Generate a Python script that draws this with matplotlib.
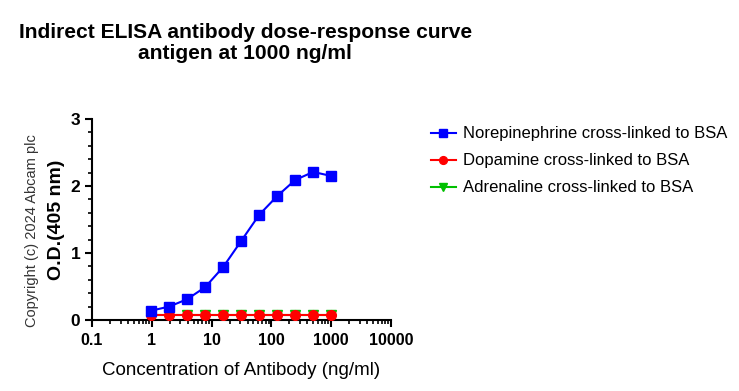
import matplotlib
matplotlib.use("Agg")
import matplotlib.pyplot as plt
from matplotlib.ticker import LogLocator, MultipleLocator, FixedLocator, FixedFormatter, NullFormatter

plt.rcParams['font.family'] = ['Liberation Sans', 'DejaVu Sans']

conc = [0.977, 1.95, 3.9, 7.8, 15.6, 31.25, 62.5, 125, 250, 500, 1000]
norepinephrine = [0.14, 0.20, 0.31, 0.49, 0.79, 1.18, 1.57, 1.85, 2.09, 2.21, 2.15]
dopamine = [0.07, 0.07, 0.07, 0.07, 0.07, 0.07, 0.07, 0.07, 0.07, 0.07, 0.07]
adrenaline = [0.08, 0.08, 0.08, 0.08, 0.08, 0.08, 0.08, 0.08, 0.08, 0.08, 0.08]
xticks = [0.1, 1, 10, 100, 1000, 10000]
xticklabels = ["0.1", "1", "10", "100", "1000", "10000"]

fig = plt.figure(figsize=(7.39, 3.91), dpi=100)
ax = fig.add_axes([0.1245, 0.1816, 0.4046, 0.514])

ax.plot(conc, adrenaline, color='#00C000', marker='v', markersize=7, lw=1.5,
        label='Adrenaline cross-linked to BSA', zorder=3)
ax.plot(conc, dopamine, color='#FF0000', marker='o', markersize=7, lw=1.5,
        label='Dopamine cross-linked to BSA', zorder=4)
ax.plot(conc, norepinephrine, color='#0000FF', marker='s', markersize=7, lw=1.5,
        label='Norepinephrine cross-linked to BSA', zorder=5)

ax.set_xscale('log')
ax.set_xlim(0.1, 10000)
ax.set_ylim(0, 3)
ax.xaxis.set_major_locator(FixedLocator(xticks))
ax.xaxis.set_major_formatter(FixedFormatter(xticklabels))
ax.xaxis.set_minor_locator(LogLocator(base=10, subs=range(2, 10)))
ax.xaxis.set_minor_formatter(NullFormatter())
ax.yaxis.set_major_locator(MultipleLocator(1))
ax.yaxis.set_minor_locator(MultipleLocator(0.2))

for s in ['top', 'right']:
    ax.spines[s].set_visible(False)
for s in ['left', 'bottom']:
    ax.spines[s].set_linewidth(1.5)
ax.tick_params(which='major', length=5, width=1.5, labelsize=11.5)
ax.tick_params(which='minor', length=3, width=1.2)
ax.tick_params(axis='y', labelsize=12.5)
ax.tick_params(axis='x', which='major', pad=4.5)
for lab in ax.get_yticklabels() + ax.get_xticklabels():
    lab.set_fontweight('bold')

ax.set_xlabel('Concentration of Antibody (ng/ml)', fontsize=13.5, labelpad=10)
ax.set_ylabel('O.D.(405 nm)', fontsize=14, fontweight='bold', labelpad=4)

fig.text(0.332, 0.89, 'Indirect ELISA antibody dose-response curve\nantigen at 1000 ng/ml',
         ha='center', va='center', fontsize=15.1, fontweight='bold', linespacing=1.07)
fig.text(0.043, 0.41, 'Copyright (c) 2024 Abcam plc', rotation=90, ha='center', va='center',
         fontsize=10.5, color='#333333')

handles, labels = ax.get_legend_handles_labels()
order = [2, 1, 0]
fig.legend([handles[i] for i in order], [labels[i] for i in order],
           loc='upper left', bbox_to_anchor=(0.5625, 0.715), frameon=False,
           fontsize=12, handlelength=1.5, handletextpad=0.45, labelspacing=0.72, markerscale=0.8)

fig.savefig('out.png', dpi=100)
